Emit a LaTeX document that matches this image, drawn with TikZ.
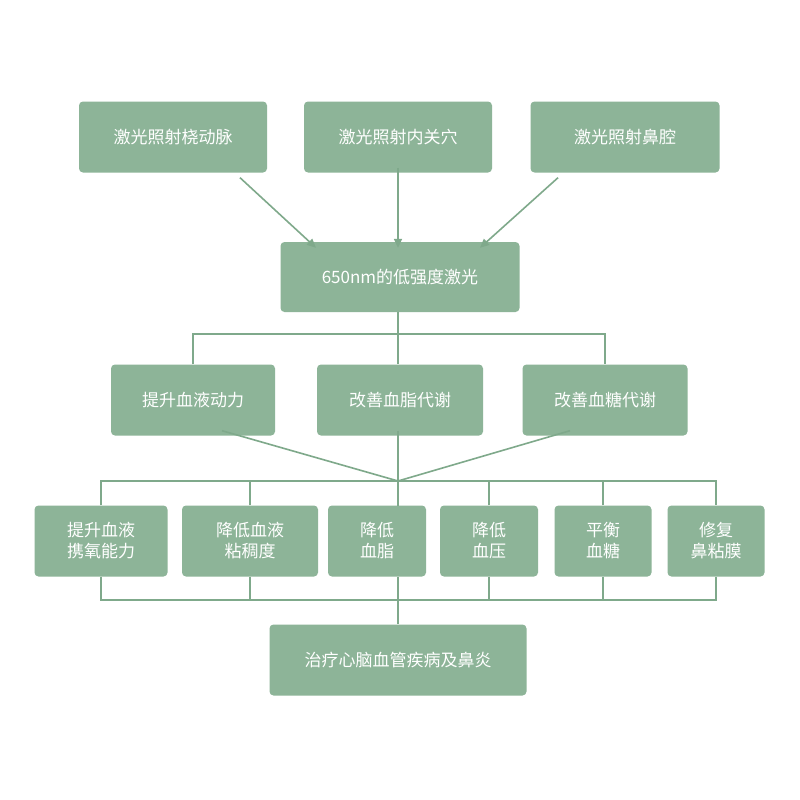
\documentclass[tikz,border=0pt]{standalone}
\usepackage{fontspec}
\setmainfont{Noto Sans CJK SC}
\usetikzlibrary{arrows.meta}
\definecolor{bx}{HTML}{8DB498}
\definecolor{ln}{HTML}{7FA98B}
\begin{document}
\begin{tikzpicture}[x=1pt,y=-1pt,
  box/.style={fill=bx,rounded corners=4pt,text=white,font=\fontsize{17}{21}\selectfont,inner sep=0pt,align=center},
  con/.style={draw=ln,line width=1.6pt},
  arr/.style={con,-{Triangle[length=9pt,width=8pt]}}]
\useasboundingbox[fill=white] (0,0) rectangle (800,800);
\node[box,minimum width=188pt,minimum height=71pt] (t1) at (173,137) {激光照射桡动脉};
\node[box,minimum width=188pt,minimum height=71pt] (t2) at (398,137) {激光照射内关穴};
\node[box,minimum width=189pt,minimum height=71pt] (t3) at (625,137) {激光照射鼻腔};
\node[box,minimum width=239pt,minimum height=70pt] (L) at (400,277) {650nm的低强度激光};
\node[box,minimum width=164pt,minimum height=71pt] (m1) at (193,400) {提升血液动力};
\node[box,minimum width=166pt,minimum height=71pt] (m2) at (400,400) {改善血脂代谢};
\node[box,minimum width=165pt,minimum height=71pt] (m3) at (605,400) {改善血糖代谢};
\node[box,minimum width=133pt,minimum height=71pt] (b1) at (101,541) {提升血液\\携氧能力};
\node[box,minimum width=136pt,minimum height=71pt] (b2) at (250,541) {降低血液\\粘稠度};
\node[box,minimum width=98pt,minimum height=71pt] (b3) at (377,541) {降低\\血脂};
\node[box,minimum width=98pt,minimum height=71pt] (b4) at (489,541) {降低\\血压};
\node[box,minimum width=97pt,minimum height=71pt] (b5) at (603,541) {平衡\\血糖};
\node[box,minimum width=97pt,minimum height=71pt] (b6) at (716,541) {修复\\鼻粘膜};
\node[box,minimum width=257pt,minimum height=71pt] (E) at (398,660) {治疗心脑血管疾病及鼻炎};
\draw[arr] (t1.south)++(67,5) -- ([xshift=-84pt,yshift=-6pt]L.north);
\draw[arr] ([yshift=5pt]t2.south) -- ([xshift=-2pt,yshift=-6pt]L.north);
\draw[arr] (t3.south)++(-67,5) -- ([xshift=80pt,yshift=-6pt]L.north);
\coordinate (j1) at (398,334);
\draw[con] ([xshift=-2pt]L.south) -- (j1);
\draw[con] (m1.north) |- (j1) -| (m3.north);
\draw[con] (j1) -- ([xshift=-2pt]m2.north);
\coordinate (j2) at (398,481);
\draw[con] ([xshift=29pt,yshift=5pt]m1.south) -- (j2);
\draw[con] ([xshift=-2pt,yshift=5pt]m2.south) -- (j2);
\draw[con] ([xshift=-35pt,yshift=5pt]m3.south) -- (j2);
\draw[con] (b1.north) |- (j2) -| (b6.north);
\foreach \b in {b2,b4,b5} \draw[con] (\b.north) -- (\b.north |- j2);
\draw[con] (j2) -- (398,506);
\coordinate (j3) at (398,600);
\draw[con] (b1.south) |- (j3) -| (b6.south);
\foreach \b in {b2,b4,b5} \draw[con] (\b.south) -- (\b.south |- j3);
\draw[con] (398,577) -- (j3) -- (E.north);
\end{tikzpicture}
\end{document}
